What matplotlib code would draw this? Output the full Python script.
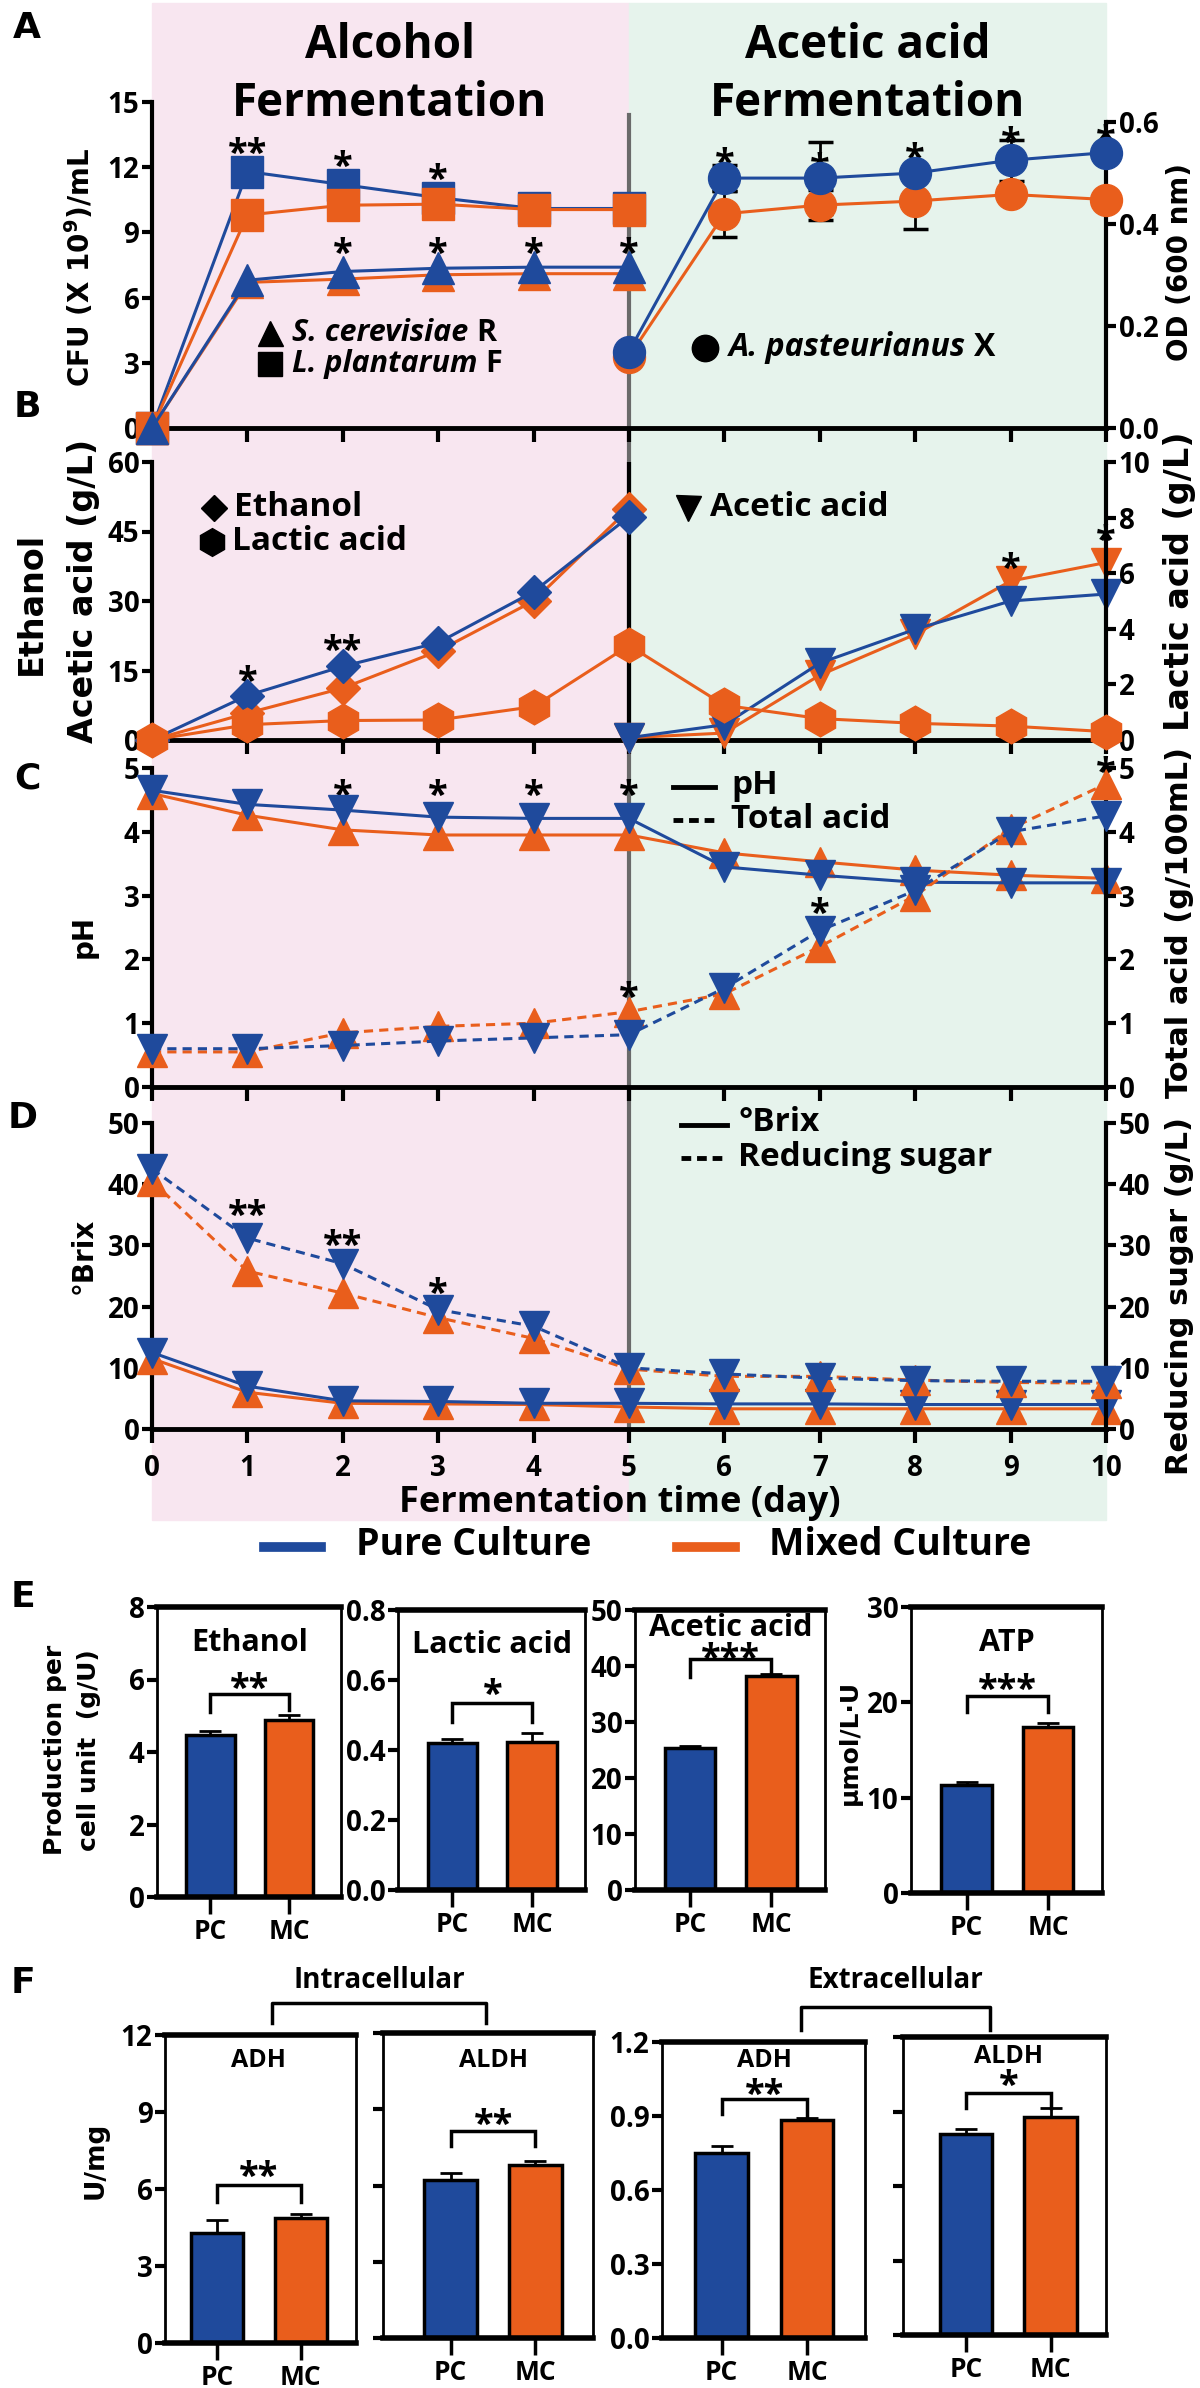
import numpy as np
import matplotlib
matplotlib.use("Agg")
import matplotlib.pyplot as plt
from matplotlib.lines import Line2D
from matplotlib.patches import Rectangle

W, H = 1200, 2388
BLUE = "#1F4A9C"
ORANGE = "#E95E1C"
PINK = "#F8E6F0"
GREEN = "#E6F3EC"

plt.rcParams['font.family'] = ['Open Sans', 'DejaVu Sans']
plt.rcParams['font.weight'] = 'bold'

# ---- data: time courses (day 0-10) ----
days = np.arange(0, 11)
days_alc = days[:6]
days_ace = days[5:]

# A: cell counts (x10^9 CFU/mL) and OD600
sq_pc = [0, 11.8, 11.2, 10.6, 10.1, 10.1]
sq_mc = [0, 9.8, 10.25, 10.3, 10.05, 10.05]
tri_pc = [0, 6.8, 7.2, 7.35, 7.4, 7.4]
tri_mc = [0, 6.7, 6.85, 7.05, 7.1, 7.1]
od_pc = [0.15, 0.49, 0.49, 0.50, 0.525, 0.54]
od_mc = [0.14, 0.42, 0.437, 0.445, 0.458, 0.448]
od_pc_err = [0, 0.025, 0.07, 0.0, 0.04, 0.0]
od_mc_err = [0, 0.045, 0.03, 0.055, 0.01, 0.0]

# B: ethanol / acetic acid (g/L), lactic acid (g/L)
eth_pc = [0, 9.6, 15.9, 21.0, 32.0, 48.2]
eth_mc = [0, 5.8, 11.2, 19.2, 30.0, 49.9]
ace_pc = [0.5, 3.3, 16.6, 23.9, 30.0, 31.5]
ace_mc = [0.5, 1.5, 14.0, 22.8, 34.3, 38.3]
lac_mc = [0, 0.55, 0.7, 0.72, 1.2, 3.4, 1.25, 0.77, 0.6, 0.5, 0.3]

# C: pH and total acid (g/100mL)
ph_pc = [4.65, 4.43, 4.34, 4.23, 4.21, 4.21, 3.45, 3.32, 3.21, 3.2, 3.2]
ph_mc = [4.6, 4.26, 4.03, 3.95, 3.95, 3.95, 3.67, 3.53, 3.4, 3.32, 3.27]
ta_pc = [0.6, 0.6, 0.65, 0.72, 0.77, 0.82, 1.55, 2.45, 3.08, 4.0, 4.25]
ta_mc = [0.55, 0.55, 0.85, 0.95, 1.0, 1.18, 1.46, 2.2, 3.0, 4.05, 4.75]

# D: Brix and reducing sugar (g/L)
brix_pc = [12.5, 7.0, 4.6, 4.5, 4.2, 4.2, 4.1, 4.1, 4.0, 4.0, 4.0]
brix_mc = [11.5, 6.0, 4.2, 4.1, 4.0, 3.6, 3.3, 3.3, 3.3, 3.3, 3.3]
rs_pc = [42.5, 31.2, 27.0, 19.5, 16.8, 10.0, 9.0, 8.3, 7.9, 7.8, 7.8]
rs_mc = [40.5, 25.8, 22.2, 18.2, 14.8, 9.8, 8.6, 8.6, 8.0, 7.6, 7.5]

# E / F: bar data (PC, MC)
groups = ["PC", "MC"]
e_ethanol = [4.47, 4.88]
e_ethanol_err = [0.12, 0.13]
e_lactic = [0.42, 0.423]
e_lactic_err = [0.012, 0.025]
e_acetic = [25.4, 38.3]
e_acetic_err = [0.4, 0.3]
e_atp = [11.3, 17.4]
e_atp_err = [0.3, 0.45]
f_adh_in = [4.28, 4.86]
f_adh_in_err = [0.52, 0.17]
f_aldh_in = [6.2, 6.79]
f_aldh_in_err = [0.3, 0.19]
f_adh_ex = [0.748, 0.885]
f_adh_ex_err = [0.03, 0.005]
f_aldh_ex = [0.811, 0.878]
f_aldh_ex_err = [0.02, 0.038]

fig = plt.figure(figsize=(W / 100, H / 100), dpi=100)


def rect(x0, x1, ytop, ybot):
    return [x0 / W, 1 - ybot / H, (x1 - x0) / W, (ybot - ytop) / H]


def fx(x):
    return x / W


def fy(y):
    return 1 - y / H


def ftext(x, y, s, **kw):
    kw.setdefault("ha", "center")
    kw.setdefault("va", "center")
    return fig.text(fx(x), fy(y), s, **kw)


def fline(xs, ys, **kw):
    fig.add_artist(Line2D([fx(v) for v in xs], [fy(v) for v in ys],
                          transform=fig.transFigure, **kw))


def star(ax, x, y, s, fs=26):
    ax.annotate(s, (x, y), xytext=(0, -0.58 * fs), textcoords="offset points",
                ha="center", va="baseline", fontsize=fs, fontweight="bold",
                annotation_clip=False)


# background shading and divider
fig.add_artist(Rectangle((fx(152), fy(1520)), fx(629) - fx(152), fy(3) - fy(1520),
                         transform=fig.transFigure, color=PINK, zorder=-10))
fig.add_artist(Rectangle((fx(629), fy(1520)), fx(1106) - fx(629), fy(3) - fy(1520),
                         transform=fig.transFigure, color=GREEN, zorder=-10))
fline([629, 629], [115, 1429], color="#6a6a6a", lw=3, zorder=-5)

X0, X1 = 152, 1106


def style_ts(ax, ylim, yticks):
    ax.set_facecolor("none")
    ax.set_xlim(0, 10)
    ax.set_ylim(*ylim)
    ax.set_yticks(yticks)
    ax.set_xticks(days)
    ax.tick_params(axis="x", labelbottom=False, length=10, width=3)
    ax.tick_params(axis="y", length=7, width=3, labelsize=20, pad=2)
    ax.spines["top"].set_visible(False)
    ax.spines["right"].set_visible(False)
    ax.spines["left"].set_linewidth(3)
    ax.spines["bottom"].set_linewidth(3.5)


def style_right(ax2, ylim, yticks, labels=None):
    ax2.set_facecolor("none")
    ax2.set_ylim(*ylim)
    ax2.set_yticks(yticks)
    if labels is not None:
        ax2.set_yticklabels(labels)
    for s in ["top", "left", "bottom"]:
        ax2.spines[s].set_visible(False)
    ax2.spines["right"].set_linewidth(3)
    ax2.tick_params(axis="y", length=7, width=3, labelsize=20, pad=2)


def series(ax, x, y, color, marker, ms, ls="-", lw=2.2, z=3):
    ax.plot(x, y, color=color, marker=marker, ms=ms, ls=ls, lw=lw,
            mec=color, clip_on=False, zorder=z)


# ---------------- Panel A ----------------
axA = fig.add_axes(rect(X0, X1, 102, 428))
style_ts(axA, (0, 15), [0, 3, 6, 9, 12, 15])
series(axA, days_alc, sq_pc, BLUE, "s", 23)
series(axA, days_alc, sq_mc, ORANGE, "s", 23, z=4)
series(axA, days_alc, tri_mc, ORANGE, "^", 23, z=5)
series(axA, days_alc, tri_pc, BLUE, "^", 23, z=6)
axA2 = axA.twinx()
style_right(axA2, (0, 0.6 * 326 / 306), [0, 0.2, 0.4, 0.6], ["0.0", "0.2", "0.4", "0.6"])
axA2.spines["right"].set_bounds(0, 0.6)
axA2.errorbar(days_ace, od_mc, yerr=od_mc_err, fmt="none", ecolor="black",
              elinewidth=2, capsize=9, capthick=2.5, zorder=1)
axA2.errorbar(days_ace, od_pc, yerr=od_pc_err, fmt="none", ecolor="black",
              elinewidth=2, capsize=9, capthick=2.5, zorder=1)
series(axA2, days_ace, od_mc, ORANGE, "o", 23)
series(axA2, days_ace, od_pc, BLUE, "o", 23, z=4)
for d, s in zip([1, 2, 3], ["**", "*", "*"]):
    star(axA, d, sq_pc[d] + 1.3, s)
for d in [2, 3, 4, 5]:
    star(axA, d, 8.5, "*")
for d, yy in zip([6, 7, 8, 9, 10], [0.54, 0.53, 0.55, 0.58, 0.585]):
    star(axA2, d, yy, "*")

ftext(390, 46, "Alcohol", fontsize=33)
ftext(390, 104, "Fermentation", fontsize=33)
ftext(868, 46, "Acetic acid", fontsize=33)
ftext(868, 104, "Fermentation", fontsize=33)

renderer = fig.canvas.get_renderer()


def legend_entry(x, y, marker, ms, main, regular=None, fs=24, italic=False, gap=22):
    fline([x], [y], marker=marker, ms=ms, color="black", ls="none")
    t = ftext(x + gap, y, main, ha="left", fontsize=fs,
              style="italic" if italic else "normal")
    if regular:
        bb = t.get_window_extent(renderer)
        fig.text(bb.x1 / W + 8 / W, fy(y), regular, ha="left", va="center", fontsize=fs)


legend_entry(270, 333, "^", 18, "S. cerevisiae", "R", fs=22, italic=True)
legend_entry(270, 364, "s", 17, "L. plantarum", "F", fs=22, italic=True)
legend_entry(705, 348, "o", 19, "A. pasteurianus", "X", fs=23, italic=True, gap=24)

# ---------------- Panel B ----------------
axB = fig.add_axes(rect(X0, X1, 462, 740))
style_ts(axB, (0, 60), [0, 15, 30, 45, 60])
axB.axvline(5, color="black", lw=3, zorder=1)
series(axB, days_alc, eth_mc, ORANGE, "D", 17)
series(axB, days_alc, eth_pc, BLUE, "D", 17, z=4)
series(axB, days_ace, ace_mc, ORANGE, "v", 22)
series(axB, days_ace, ace_pc, BLUE, "v", 22, z=4)
axB2 = axB.twinx()
style_right(axB2, (0, 10), [0, 2, 4, 6, 8, 10])
series(axB2, days, lac_mc, ORANGE, "h", 25)
for d, yy, s in [(1, 15, "*"), (2, 21.6, "**"), (9, 39.3, "*"), (10, 45.4, "*")]:
    star(axB, d, yy, s)
legend_entry(214, 508, "D", 13, "Ethanol", gap=20)
legend_entry(212, 542, "h", 20, "Lactic acid", gap=20)
legend_entry(688, 508, "v", 18, "Acetic acid", gap=22)

# ---------------- Panel C ----------------
axC = fig.add_axes(rect(X0, X1, 768, 1087))
style_ts(axC, (0, 5), [0, 1, 2, 3, 4, 5])
series(axC, days, ph_mc, ORANGE, "^", 22)
series(axC, days, ph_pc, BLUE, "v", 22, z=4)
axC2 = axC.twinx()
style_right(axC2, (0, 5), [0, 1, 2, 3, 4, 5])
series(axC2, days, ta_mc, ORANGE, "^", 22, ls=(0, (3, 2)))
series(axC2, days, ta_pc, BLUE, "v", 22, ls=(0, (3, 2)), z=4)
for d in [2, 3, 4, 5]:
    star(axC, d, 4.73, "*")
for d, yy in [(5, 1.57), (7, 2.88), (10, 5.1)]:
    star(axC2, d, yy, "*")
fline([673, 715], [787, 787], color="black", lw=3.5)
ftext(731, 785, "pH", ha="left", fontsize=24)
fline([673, 715], [820, 820], color="black", lw=3.5, ls=(0, (2, 1.2)))
ftext(731, 820, "Total acid", ha="left", fontsize=24)

# ---------------- Panel D ----------------
axD = fig.add_axes(rect(X0, X1, 1123, 1429))
style_ts(axD, (0, 50), [0, 10, 20, 30, 40, 50])
axD.tick_params(axis="x", labelbottom=True, labelsize=20, pad=8)
series(axD, days, brix_mc, ORANGE, "^", 22)
series(axD, days, brix_pc, BLUE, "v", 22, z=4)
axD2 = axD.twinx()
style_right(axD2, (0, 50), [0, 10, 20, 30, 40, 50])
series(axD2, days, rs_mc, ORANGE, "^", 22, ls=(0, (3, 2)))
series(axD2, days, rs_pc, BLUE, "v", 22, ls=(0, (3, 2)), z=4)
for d, yy, s in [(1, 36.6, "**"), (2, 31.7, "**"), (3, 23.9, "*")]:
    star(axD2, d, yy, s)
fline([681, 727], [1125, 1125], color="black", lw=3.5)
ftext(738, 1123, "°Brix", ha="left", fontsize=24)
fline([681, 727], [1158, 1158], color="black", lw=3.5, ls=(0, (2, 1.2)))
ftext(738, 1157, "Reducing sugar", ha="left", fontsize=24)
ftext(620, 1503, "Fermentation time (day)", fontsize=26)

# y labels A-D
ylab = dict(rotation=90, family="DejaVu Sans", fontweight="bold")
ftext(80, 267, "CFU (X 10$^9$)/mL", fontsize=20, **ylab)
ftext(1180, 262, "OD (600 nm)", fontsize=20, **ylab)
ftext(31, 603, "Ethanol", fontsize=24, **ylab)
ftext(84, 591, "Acetic acid (g/L)", fontsize=24, **ylab)
ftext(1180, 581, "Lactic acid (g/L)", fontsize=24, **ylab)
ftext(84, 937, "pH", fontsize=20, **ylab)
ftext(1180, 922, "Total acid (g/100mL)", fontsize=22, **ylab)
ftext(84, 1256, "°Brix", fontsize=20, **ylab)
ftext(1180, 1296, "Reducing sugar (g/L)", fontsize=22, **ylab)

# culture legend
fline([264, 321], [1547, 1547], color=BLUE, lw=7)
ftext(356, 1545, "Pure Culture", ha="left", fontsize=27)
fline([677, 735], [1547, 1547], color=ORANGE, lw=7)
ftext(769, 1545, "Mixed Culture", ha="left", fontsize=27)

# panel letters
for letter, (lx, ly) in zip("ABCDEF", [(27, 28), (27, 407), (27, 778), (23, 1118),
                                       (23, 1597), (23, 1983)]):
    ftext(lx, ly, letter, fontsize=26, family="DejaVu Sans", fontweight="bold")


# ---------------- Panels E and F (bars) ----------------
def bar_panel(box, vals, errs, ylim, yticks, ticklabels, title, title_y,
              stars, star_y, br_y, legs, xlim=(-0.68, 1.66), title_fs=22, show_labels=True):
    ax = fig.add_axes(rect(*box))
    ax.set_facecolor("none")
    ax.bar([0, 1], vals, width=0.62, color=[BLUE, ORANGE], edgecolor="black",
           linewidth=2.5, zorder=2)
    ax.errorbar([0, 1], vals, yerr=[[0, 0], errs], fmt="none", ecolor="black",
                elinewidth=2, capsize=8, capthick=2, zorder=1)
    ax.set_xlim(*xlim)
    ax.set_ylim(*ylim)
    ax.set_yticks(yticks)
    if show_labels:
        ax.set_yticklabels(ticklabels)
    else:
        ax.set_yticklabels([])
    ax.set_xticks([0, 1])
    ax.set_xticklabels(groups)
    ax.tick_params(axis="x", length=12, width=2.5, labelsize=19, pad=3)
    ax.tick_params(axis="y", length=7, width=3, labelsize=20, pad=2)
    for s in ["top", "bottom"]:
        ax.spines[s].set_linewidth(4)
    for s in ["left", "right"]:
        ax.spines[s].set_linewidth(2)
    ax.text(0.5, title_y, title, ha="center", va="center", fontsize=title_fs)
    star(ax, 0.5, star_y, stars)
    ax.plot([0, 0, 1, 1], [legs[0], br_y, br_y, legs[1]], color="black", lw=2.5,
            solid_joinstyle="miter")
    return ax


bar_panel((157, 341, 1607, 1897), e_ethanol, e_ethanol_err, (0, 8), [0, 2, 4, 6, 8],
          ["0", "2", "4", "6", "8"], "Ethanol", 7.0, "**", 6.05, 5.6, (5.1, 5.15))
bar_panel((398, 585, 1610, 1890), e_lactic, e_lactic_err, (0, 0.8),
          [0, 0.2, 0.4, 0.6, 0.8], ["0.0", "0.2", "0.4", "0.6", "0.8"],
          "Lactic acid", 0.7, "*", 0.59, 0.535, (0.48, 0.48))
bar_panel((635, 825, 1610, 1890), e_acetic, e_acetic_err, (0, 50),
          [0, 10, 20, 30, 40, 50], ["0", "10", "20", "30", "40", "50"],
          "Acetic acid", 46.8, "***", 43.3, 41.2, (38.0, 38.7))
bar_panel((911, 1102, 1607, 1893), e_atp, e_atp_err, (0, 30), [0, 10, 20, 30],
          ["0", "10", "20", "30"], "ATP", 26.2, "***", 22.4, 20.7, (19.0, 19.0))

bar_panel((165, 356, 2035, 2343), f_adh_in, f_adh_in_err, (0, 12), [0, 3, 6, 9, 12],
          ["0", "3", "6", "9", "12"], "ADH", 11.0, "**", 6.9, 6.16, (5.5, 5.5),
          xlim=(-0.62, 1.66), title_fs=18)
bar_panel((383, 593, 2033, 2338), f_aldh_in, f_aldh_in_err, (0, 12), [0, 3, 6, 9, 12],
          None, "ALDH", 10.9, "**", 8.8, 8.13, (7.54, 7.54),
          xlim=(-0.8, 1.68), title_fs=18, show_labels=False)
bar_panel((662, 865, 2042, 2338), f_adh_ex, f_adh_ex_err, (0, 1.2),
          [0, 0.3, 0.6, 0.9, 1.2], ["0.0", "0.3", "0.6", "0.9", "1.2"],
          "ADH", 1.126, "**", 1.03, 0.967, (0.91, 0.9),
          xlim=(-0.7, 1.68), title_fs=18)
bar_panel((903, 1106, 2037, 2335), f_aldh_ex, f_aldh_ex_err, (0, 1.2),
          [0, 0.3, 0.6, 0.9, 1.2], None, "ALDH", 1.12, "*", 1.045, 0.975,
          (0.916, 0.916), xlim=(-0.74, 1.65), title_fs=18, show_labels=False)

ftext(72, 1750, "Production per\ncell unit  (g/U)", fontsize=18, linespacing=1.5,
      multialignment="center", **ylab)
ftext(850, 1742, "μmol/L·U", fontsize=18, **ylab)
ftext(96, 2160, "U/mg", fontsize=19, **ylab)

# F group brackets
ftext(379, 1980, "Intracellular", fontsize=20)
fline([272, 272, 486, 486], [2023, 2003, 2003, 2023], color="black", lw=2.5)
ftext(895, 1980, "Extracellular", fontsize=20)
fline([801, 801, 990, 990], [2030, 2007, 2007, 2030], color="black", lw=2.5)

fig.savefig("out.png", dpi=100, facecolor="white")
